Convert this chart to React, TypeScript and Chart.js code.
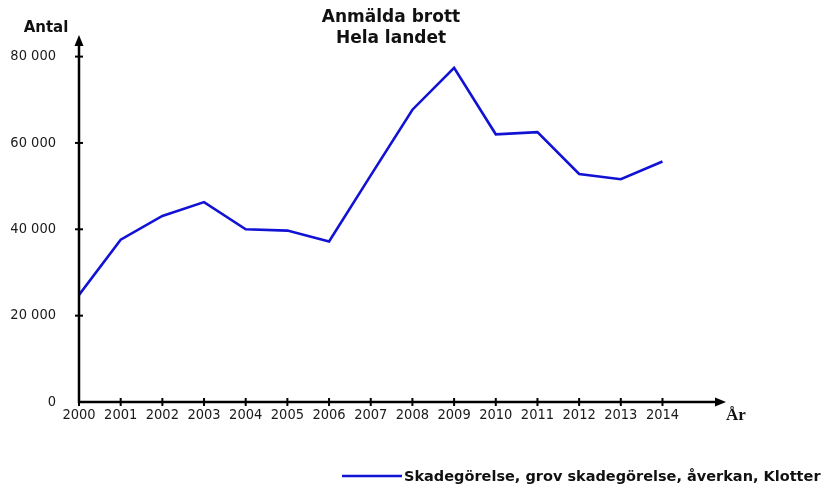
import { useEffect, useRef } from 'react';
import { Chart, registerables } from 'chart.js';

Chart.register(...registerables);

const YEARS = [2000, 2001, 2002, 2003, 2004, 2005, 2006, 2007, 2008, 2009, 2010, 2011, 2012, 2013, 2014];
const VALUES = [24800, 37600, 43100, 46300, 40000, 39700, 37200, 52500, 67700, 77400, 62000, 62500, 52800, 51600, 55700];
const Y_TICKS = [0, 20000, 40000, 60000, 80000];
const TITLE_LINES = ['Anmälda brott', 'Hela landet'];
const SERIES_LABEL = 'Skadegörelse, grov skadegörelse, åverkan, Klotter';
const Y_LABEL = 'Antal';
const X_LABEL = 'År';

const LINE_COLOR = '#1212d4';

const fmt = (v: number) => String(v).replace(/\B(?=(\d{3})+(?!\d))/g, ' ');

const decor = {
  id: 'decor',
  afterDraw(chart: any) {
    const ctx = chart.ctx;
    const xs = chart.scales.x;
    const ys = chart.scales.y;
    const { top, right } = chart.chartArea;
    const x0 = xs.getPixelForValue(YEARS[0]);
    const y0 = ys.getPixelForValue(0);
    ctx.save();
    ctx.strokeStyle = '#000';
    ctx.fillStyle = '#000';
    ctx.lineWidth = 2.5;
    // y axis
    ctx.beginPath();
    ctx.moveTo(x0, y0 + 1);
    ctx.lineTo(x0, top + 6);
    ctx.stroke();
    ctx.beginPath();
    ctx.moveTo(x0, top - 1);
    ctx.lineTo(x0 - 4.5, top + 10);
    ctx.lineTo(x0 + 4.5, top + 10);
    ctx.closePath();
    ctx.fill();
    // x axis
    ctx.beginPath();
    ctx.moveTo(x0 - 1, y0);
    ctx.lineTo(right - 6, y0);
    ctx.stroke();
    ctx.beginPath();
    ctx.moveTo(right + 1, y0);
    ctx.lineTo(right - 10, y0 - 4.5);
    ctx.lineTo(right - 10, y0 + 4.5);
    ctx.closePath();
    ctx.fill();
    // tick marks
    ctx.lineWidth = 2;
    Y_TICKS.forEach((v) => {
      if (v === 0) return;
      const py = ys.getPixelForValue(v);
      ctx.beginPath();
      ctx.moveTo(x0 - 4, py);
      ctx.lineTo(x0 + 4, py);
      ctx.stroke();
    });
    YEARS.forEach((yr) => {
      const px = xs.getPixelForValue(yr);
      ctx.beginPath();
      ctx.moveTo(px, y0 - 4);
      ctx.lineTo(px, y0 + 4);
      ctx.stroke();
    });
    // titles
    ctx.textAlign = 'center';
    ctx.textBaseline = 'middle';
    ctx.font = 'bold 17px "DejaVu Sans"';
    ctx.fillStyle = '#111';
    ctx.fillText(TITLE_LINES[0], 391, 18);
    ctx.fillText(TITLE_LINES[1], 391, 39);
    ctx.font = 'bold 15px "DejaVu Sans"';
    ctx.fillText(Y_LABEL, 46, 28);
    ctx.textAlign = 'left';
    ctx.font = 'bold 17px "Liberation Serif"';
    ctx.fillText(X_LABEL, right + 1, 416);
    // legend
    ctx.strokeStyle = LINE_COLOR;
    ctx.lineWidth = 2.5;
    ctx.beginPath();
    ctx.moveTo(342, 476);
    ctx.lineTo(402, 476);
    ctx.stroke();
    ctx.fillStyle = '#111';
    ctx.font = 'bold 14.5px "DejaVu Sans"';
    ctx.fillText(SERIES_LABEL, 404, 477);
    ctx.restore();
  },
};

export default function App() {
  const ref = useRef<HTMLCanvasElement | null>(null);
  useEffect(() => {
    if (!ref.current) return;
    const chart = new Chart(ref.current, {
      type: 'line',
      data: {
        datasets: [
          {
            label: SERIES_LABEL,
            data: YEARS.map((y, i) => ({ x: y, y: VALUES[i] })),
            borderColor: LINE_COLOR,
            borderWidth: 2.6,
            pointRadius: 0,
            tension: 0,
            fill: false,
          },
        ],
      },
      options: {
        animation: false,
        responsive: false,
        maintainAspectRatio: false,
        layout: { padding: { left: 0, right: 99, top: 36, bottom: 0 } },
        plugins: {
          legend: { display: false },
          title: { display: false },
          tooltip: { enabled: false },
        },
        scales: {
          x: {
            type: 'linear',
            min: 2000,
            max: 2015.5,
            grid: { display: false, drawTicks: false },
            border: { display: false },
            afterBuildTicks: (s: any) => {
              s.ticks = YEARS.map((v) => ({ value: v }));
            },
            afterFit: (s: any) => {
              s.height = 86;
            },
            ticks: {
              autoSkip: false,
              maxRotation: 0,
              padding: 5,
              color: '#1a1a1a',
              font: { family: '"DejaVu Sans Condensed"', size: 14.5 },
              callback: (v: any) => String(v),
            },
          },
          y: {
            type: 'linear',
            min: 0,
            max: 84770,
            grid: { display: false, drawTicks: false },
            border: { display: false },
            afterBuildTicks: (s: any) => {
              s.ticks = Y_TICKS.map((v) => ({ value: v }));
            },
            afterFit: (s: any) => {
              s.width = 79;
            },
            ticks: {
              padding: 23,
              color: '#1a1a1a',
              font: { family: '"DejaVu Sans Condensed"', size: 14.5 },
              callback: (v: any) => fmt(Number(v)),
            },
          },
        },
      },
      plugins: [decor],
    });
    return () => chart.destroy();
  }, []);
  return (
    <div style={{ position: 'fixed', left: 0, top: 0, width: 824, height: 488, background: '#fff' }}>
      <canvas ref={ref} width={824} height={488} style={{ width: 824, height: 488 }} />
    </div>
  );
}
